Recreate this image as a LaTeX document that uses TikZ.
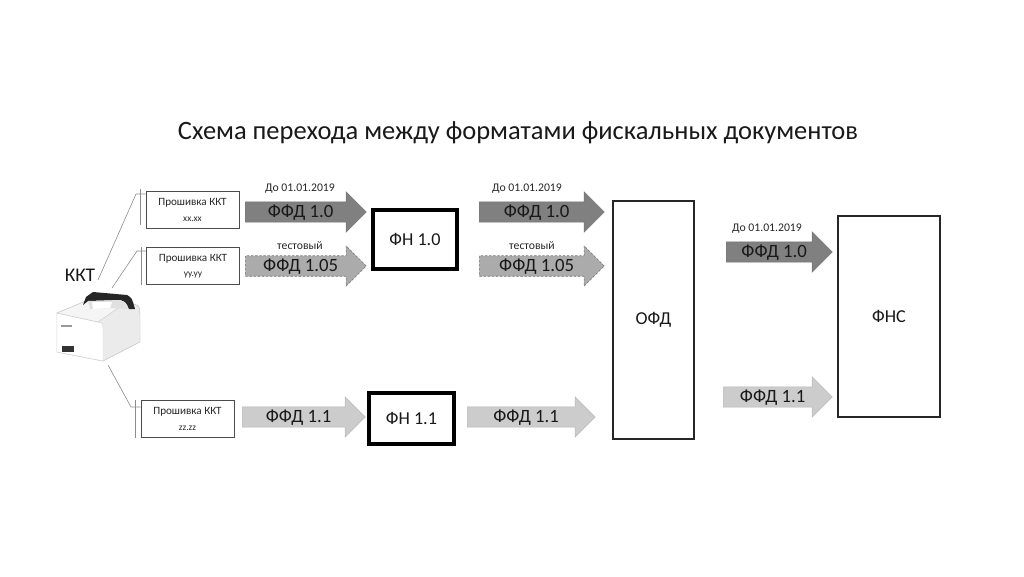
\documentclass[tikz,border=0pt]{standalone}
\usepackage{fontspec}
\setmainfont{Carlito}
\usetikzlibrary{shapes.arrows}
\begin{document}
\begin{tikzpicture}[x=0.03cm,y=-0.03cm,
    fwbox/.style={draw=black!70,line width=0.6pt,align=center,inner sep=0pt,
      minimum width=93*0.03cm,minimum height=37*0.03cm,
      font=\fontsize{9.5}{13}\selectfont,text=black!85},
    fnbox/.style={draw=black,line width=3pt,inner sep=0pt,
      font=\fontsize{15.5}{18}\selectfont,text=black!90},
    srvbox/.style={draw=black!85,line width=1.3pt,inner sep=0pt,
      font=\fontsize{15.5}{18}\selectfont,text=black!90},
    fat/.style={single arrow,anchor=tail,inner sep=0pt,text height=13pt,text depth=4pt,
      single arrow head extend=8.5pt,minimum height=#1*0.03cm,
      font=\fontsize{16}{18}\selectfont,text=black!90},
    ffdold/.style={fat=#1,fill=black!50,draw=black!55,line width=0.4pt},
    ffdtest/.style={fat=#1,fill=black!33,draw=black!55,line width=0.5pt,dash pattern=on 2pt off 1.5pt},
    ffdnew/.style={fat=#1,fill=black!20,draw=black!28,line width=0.4pt},
    note/.style={font=\fontsize{10}{12}\selectfont,text=black!85},
    link/.style={draw=black!45,line width=0.5pt}]
  \useasboundingbox[fill=white] (0,0) rectangle (1024,576);
  % title
  \node[font=\fontsize{22.6}{26}\selectfont,text=black!90] (title) at (518,133)
    {Схема перехода между форматами фискальных документов};
  % kkt
  \node[font=\fontsize{16.5}{19}\selectfont,text=black!90] (kkt) at (80,275) {ККТ};
  % printer body
  \filldraw[fill=black!8,draw=black!25] (57,313) -- (86,301) -- (128,303) .. controls (140,305) .. (140,318)
    -- (140,342) -- (103,361) -- (57,352) -- cycle;
  % printer front
  \filldraw[fill=white,draw=black!18] (57,313) -- (98,322) .. controls (103,323) .. (103,330) -- (103,361) -- (57,352) -- cycle;
  % printer top
  \filldraw[fill=black!4,draw=black!20] (57,313) -- (86,301) -- (124,304) -- (98,322) -- cycle;
  % cover
  \fill[black!85] (83,305) -- (86,297) -- (93,292) -- (127,295) .. controls (132,298) .. (135,309)
    -- (129,309) .. controls (126,302) .. (120,300) -- (88,301) -- cycle;
  % paper
  \fill[black!12] (88,301) -- (120,300) .. controls (125,302) .. (128,309) -- (112,308) -- (90,309) -- cycle;
  \fill[white] (92,302) -- (112,302) -- (110,308) -- (93,309) -- cycle;
  % slot and logo
  \fill[black!80] (62,346) rectangle (74,352);
  \fill[black!40] (61,325) rectangle (72,327);
  % firmware
  \node[fwbox] (fw1) at (192.5,210) {Прошивка ККТ\\{\fontsize{8}{10}\selectfont xx.xx}};
  \node[fwbox] (fw2) at (193,266) {Прошивка ККТ\\{\fontsize{8}{10}\selectfont yy.yy}};
  \node[fwbox] (fw3) at (187.5,419) {Прошивка ККТ\\{\fontsize{8}{10}\selectfont zz.zz}};
  % links to kkt
  \coordinate (k1) at (98,280);
  \coordinate (k2) at (112,288);
  \coordinate (k3) at (108,365);
  \coordinate (j1) at (136,194);
  \coordinate (j2) at (137,251);
  \coordinate (j3) at (131,407);
  \draw[link] (k1) -- (j1) -- (j1-|fw1.west);
  \draw[link] (k2) -- (j2) -- (j2-|fw2.west);
  \draw[link] (k3) -- (j3) -- (j3-|fw3.west);
  \draw[link] ([xshift=-5*0.03cm,yshift=2*0.03cm]fw1.north west) -- ([xshift=-5*0.03cm,yshift=4*0.03cm]fw1.south west);
  \draw[link] ([xshift=-5*0.03cm]fw2.north west) -- ([xshift=-5*0.03cm]fw2.south west);
  \draw[link] ([xshift=-5*0.03cm]fw3.north west) -- ([xshift=-5*0.03cm]fw3.south west);
  % fn
  \node[fnbox,minimum width=84*0.03cm,minimum height=59*0.03cm] (fn10) at (415,239.5) {ФН 1.0};
  \node[fnbox,minimum width=85*0.03cm,minimum height=51*0.03cm] (fn11) at (411.5,418.5) {ФН 1.1};
  % ofd and fns
  \node[srvbox,minimum width=81*0.03cm,minimum height=238*0.03cm] (ofd) at (653.5,320) {ОФД};
  \node[srvbox,minimum width=102*0.03cm,minimum height=201*0.03cm] (fns) at (889,316.5) {ФНС};
  % 1st column
  \node[ffdold=121] (a1) at (245,212) {ФФД 1.0};
  \node[note] (n1) at (300,189) {До 01.01.2019};
  \node[ffdtest=121] (a2) at (245,266) {ФФД 1.05};
  \node[note] (n2) at (300,246) {тестовый};
  \node[ffdnew=123] (a3) at (242,417) {ФФД 1.1};
  % 2nd column
  \node[ffdold=125] (a4) at (479,212) {ФФД 1.0};
  \node[note] (n4) at (527,189) {До 01.01.2019};
  \node[ffdtest=125] (a5) at (479,266) {ФФД 1.05};
  \node[note] (n5) at (532,246) {тестовый};
  \node[ffdnew=128] (a6) at (467,417) {ФФД 1.1};
  % 3rd column
  \node[ffdold=106] (a7) at (726,252) {ФФД 1.0};
  \node[note] (n7) at (767,229) {До 01.01.2019};
  \node[ffdnew=109] (a8) at (723,397) {ФФД 1.1};
\end{tikzpicture}
\end{document}
